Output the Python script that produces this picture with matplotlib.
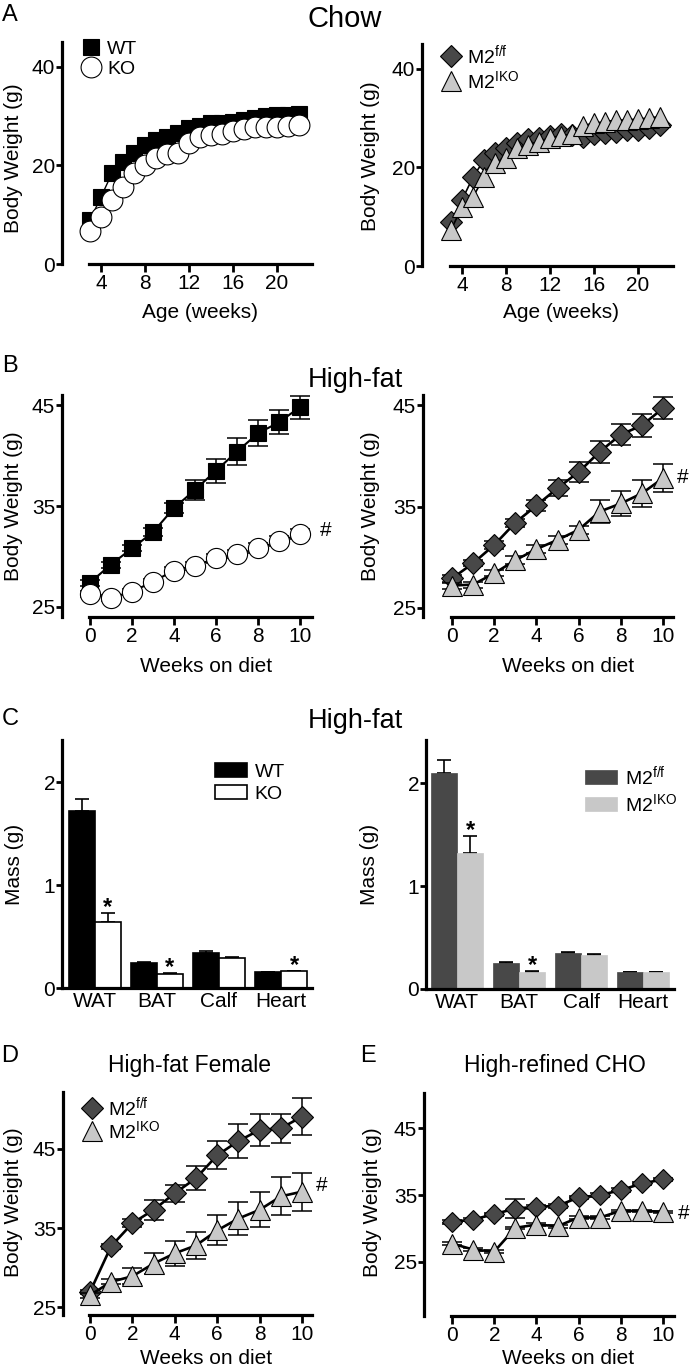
import numpy as np
import matplotlib
matplotlib.use("Agg")
import matplotlib.pyplot as plt
from matplotlib.lines import Line2D
from matplotlib.patches import Patch

plt.rcParams['font.family'] = ['Liberation Sans', 'DejaVu Sans']
plt.rcParams['mathtext.default'] = 'regular'

# A - chow, body weight by age
chow_weeks = list(range(3, 23))
chow_wt = [8.9, 13.6, 18.4, 20.7, 22.5, 24.1, 25.2, 25.8, 26.5, 27.5,
           28.0, 28.5, 28.6, 28.8, 29.2, 29.5, 30.0, 30.2, 30.3, 30.5]
chow_ko = [6.6, 9.5, 13.0, 15.7, 18.4, 20.0, 21.4, 22.3, 22.5, 24.5,
           25.8, 26.2, 26.4, 26.9, 27.3, 27.7, 27.8, 27.8, 27.9, 28.2]
chow_m2ff = [8.9, 13.4, 18.0, 21.5, 23.0, 24.0, 25.0, 25.7, 26.0, 26.3,
             26.7, 26.5, 26.2, 26.8, 27.0, 27.1, 27.5, 27.5, 27.9, 28.5]
chow_m2iko = [7.3, 12.0, 14.0, 18.0, 20.8, 21.8, 23.9, 24.6, 25.2, 26.0,
              26.4, 26.7, 28.4, 29.0, 29.2, 29.6, 29.6, 29.8, 30.0, 30.3]

# B - high-fat, weeks on diet
diet_weeks = list(range(0, 11))
hf_wt = [27.4, 29.2, 30.8, 32.4, 34.8, 36.6, 38.5, 40.4, 42.2, 43.3, 44.8]
hf_wt_err = [0.3, 0.3, 0.3, 0.4, 0.5, 1.0, 1.2, 1.3, 1.3, 1.2, 1.15]
hf_ko = [26.3, 25.9, 26.5, 27.5, 28.6, 29.1, 29.8, 30.2, 30.8, 31.5, 32.2]
hf_ko_err = [0.3, 0.3, 0.3, 0.3, 0.4, 0.4, 0.4, 0.4, 0.5, 0.5, 0.5]
hf_m2ff = [27.9, 29.4, 31.2, 33.4, 35.1, 36.8, 38.4, 40.4, 42.1, 43.0, 44.7]
hf_m2ff_err = [0.3, 0.3, 0.4, 0.4, 0.5, 0.8, 1.0, 1.1, 1.0, 1.1, 1.1]
hf_m2iko = [27.2, 27.3, 28.4, 29.7, 30.8, 31.7, 32.7, 34.5, 35.3, 36.3, 37.8]
hf_m2iko_err = [0.3, 0.3, 0.3, 0.4, 0.4, 0.4, 0.4, 1.1, 1.2, 1.3, 1.4]

# C - tissue mass
tissues = ['WAT', 'BAT', 'Calf', 'Heart']
mass_wt = [1.72, 0.24, 0.34, 0.155]
mass_wt_err = [0.12, 0.01, 0.015, 0.005]
mass_ko = [0.64, 0.135, 0.29, 0.165]
mass_ko_err = [0.09, 0.01, 0.01, 0.005]
mass_ko_sig = [True, True, False, True]
mass_m2ff = [2.10, 0.25, 0.35, 0.165]
mass_m2ff_err = [0.13, 0.01, 0.01, 0.005]
mass_m2iko = [1.32, 0.165, 0.33, 0.165]
mass_m2iko_err = [0.17, 0.01, 0.01, 0.005]
mass_m2iko_sig = [True, True, False, False]

# D - high-fat female
hff_m2ff = [26.9, 32.7, 35.6, 37.3, 39.4, 41.3, 44.2, 46.0, 47.4, 47.6, 49.1]
hff_m2ff_err = [0.3, 0.3, 0.5, 1.3, 1.05, 1.5, 1.75, 2.1, 2.0, 1.8, 2.3]
hff_m2iko = [26.5, 28.2, 28.9, 30.5, 31.8, 32.8, 34.7, 36.2, 37.3, 39.0, 39.6]
hff_m2iko_err = [0.3, 0.3, 1.0, 1.3, 1.6, 1.7, 1.9, 2.1, 2.2, 2.4, 2.4]

# E - high-refined CHO
cho_m2ff = [31.0, 31.35, 32.15, 33.0, 33.25, 33.4, 34.65, 35.0, 35.75, 36.75, 37.35]
cho_m2ff_err = [0.25, 0.25, 0.25, 1.4, 0.25, 0.25, 0.25, 0.25, 0.25, 0.25, 0.25]
cho_m2iko = [27.75, 26.85, 26.55, 30.1, 30.6, 30.35, 31.65, 31.65, 32.65, 32.65, 32.5]
cho_m2iko_err = [0.2, 0.2, 0.2, 0.2, 0.2, 0.2, 0.2, 0.2, 0.2, 0.2, 0.2]

LBL_FF = r'M2$^{f/f}$'
LBL_IKO = r'M2$^{IKO}$'
DARK = '#484848'
LIGHT = '#c8c8c8'

W, H = 693, 1367
fig = plt.figure(figsize=(W / 100, H / 100), dpi=100)


def frac(box, px, py):
    l, t, r, b = box
    return (px - l) / (r - l), (b - py) / (b - t)


def panel(box, xlim, ylim, xspan, yticks, xticks=None):
    l, t, r, b = box
    ax = fig.add_axes([l / W, 1 - b / H, (r - l) / W, (b - t) / H])
    ax.set_xlim(xlim)
    ax.set_ylim(ylim)
    ax.patch.set_alpha(0)
    ax.spines[['top', 'right']].set_visible(False)
    for s in ['left', 'bottom']:
        ax.spines[s].set_linewidth(2.3)
    ax.spines['bottom'].set_bounds(*xspan)
    ax.set_yticks(yticks)
    if xticks is not None:
        ax.set_xticks(xticks)
    ax.tick_params(axis='both', labelsize=15, width=2, direction='out')
    ax.tick_params(axis='y', length=4, pad=1)
    ax.tick_params(axis='x', length=5.5, pad=2)
    return ax


def labels(ax, box, xlabel, xpos, ylabel, ypos):
    if xlabel:
        ax.set_xlabel(xlabel, fontsize=15, va='center', ha='center')
        ax.xaxis.set_label_coords(*frac(box, *xpos))
    ax.set_ylabel(ylabel, fontsize=15, va='center', ha='center')
    ax.yaxis.set_label_coords(*frac(box, *ypos))


def series(ax, x, y, err, marker, face, ms, lw, z):
    if err is not None:
        ax.errorbar(x, y, yerr=err, fmt='none', ecolor='black', elinewidth=1.1,
                    capsize=7, capthick=1.1, zorder=z)
    ax.plot(x, y, color='black', lw=lw, marker=marker, ms=ms, mfc=face,
            mec='black', mew=0.8, zorder=z + 0.5, clip_on=False)


def marker_legend(ax, box, entries, anchor, spacing):
    handles = [Line2D([], [], ls='none', marker=m, ms=ms, mfc=f, mec='black', mew=0.8)
               for m, f, ms, _ in entries]
    ax.legend(handles, [e[3] for e in entries], loc='upper left',
              bbox_to_anchor=frac(box, *anchor), frameon=False, fontsize=14,
              handlelength=1.0, handletextpad=0.35, labelspacing=spacing,
              borderaxespad=0, borderpad=0)


def mass_panel(ax, box, a, a_err, b, b_err, sig, style_a, style_b, names, anchor):
    x = np.arange(len(tissues))
    w = 0.42
    ax.bar(x - w / 2, a, w, **style_a, zorder=2)
    ax.bar(x + w / 2, b, w, **style_b, zorder=2)
    zeros = np.zeros(len(x))
    ax.errorbar(x - w / 2, a, yerr=[zeros, a_err], fmt='none', ecolor='black',
                elinewidth=1.2, capsize=5, capthick=1.2, zorder=1)
    ax.errorbar(x + w / 2, b, yerr=[zeros, b_err], fmt='none', ecolor='black',
                elinewidth=1.2, capsize=5, capthick=1.2, zorder=1)
    for xi, v, e, s in zip(x, b, b_err, sig):
        if s:
            ax.text(xi + w / 2, v + e - 0.01, '*', ha='center', va='baseline',
                    fontsize=17, fontweight='bold')
    ax.set_xticks(x)
    ax.set_xticklabels(tissues)
    ax.tick_params(axis='x', length=0, pad=3)
    handles = [Patch(**style_a), Patch(**style_b)]
    ax.legend(handles, names, loc='upper left', bbox_to_anchor=frac(box, *anchor),
              frameon=False, fontsize=14, handlelength=1.65, handleheight=0.7,
              handletextpad=0.4, labelspacing=0.25, borderaxespad=0, borderpad=0)


def ftext(px, py, s, size):
    fig.text(px / W, 1 - py / H, s, fontsize=size, ha='center', va='baseline')


# ---- A ----
A_L = (62, 42, 312, 264)
ax = panel(A_L, (0.45, 23.2), (0, 45), (2.9, 23.2), [0, 20, 40], [4, 8, 12, 16, 20])
series(ax, chow_weeks, chow_wt, None, 's', 'black', 12, 1.0, 2)
series(ax, chow_weeks, chow_ko, None, 'o', 'white', 15, 1.0, 3)
labels(ax, A_L, 'Age (weeks)', (200, 312), 'Body Weight (g)', (14, 158))
marker_legend(ax, A_L, [('s', 'black', 12, 'WT'), ('o', 'white', 15, 'KO')], (81, 40), 0.15)

A_R = (422, 44, 673, 266)
ax = panel(A_R, (0.36, 23.2), (0, 45), (2.9, 23.2), [0, 20, 40], [4, 8, 12, 16, 20])
series(ax, chow_weeks, chow_m2ff, None, 'D', DARK, 11, 1.2, 2)
series(ax, chow_weeks, chow_m2iko, None, '^', LIGHT, 14, 1.2, 3)
labels(ax, A_R, 'Age (weeks)', (561, 312), 'Body Weight (g)', (371, 156))
marker_legend(ax, A_R, [('D', DARK, 11, LBL_FF), ('^', LIGHT, 14, LBL_IKO)], (441, 43), 0.15)

# ---- B ----
B_L = (62, 395, 312, 617)
ax = panel(B_L, (-1.33, 10.57), (24.0, 46.0), (-0.05, 10.57), [25, 35, 45], range(0, 11, 2))
series(ax, diet_weeks, hf_wt, hf_wt_err, 's', 'black', 12, 1.5, 2)
series(ax, diet_weeks, hf_ko, hf_ko_err, 'o', 'white', 14.5, 1.5, 3)
ax.text(diet_weeks[-1] + 1.2, hf_ko[-1] + 0.4, '#', fontsize=15, ha='center', va='center')
labels(ax, B_L, 'Weeks on diet', (206, 666), 'Body Weight (g)', (14, 506))

B_R = (423, 395, 673, 617)
ax = panel(B_R, (-1.37, 10.47), (24.1, 46.0), (-0.05, 10.47), [25, 35, 45], range(0, 11, 2))
series(ax, diet_weeks, hf_m2ff, hf_m2ff_err, 'D', DARK, 10.8, 1.9, 2)
series(ax, diet_weeks, hf_m2iko, hf_m2iko_err, '^', LIGHT, 14.5, 1.9, 3)
ax.text(diet_weeks[-1] + 0.95, hf_m2iko[-1] + 0.1, '#', fontsize=15, ha='center', va='center')
labels(ax, B_R, 'Weeks on diet', (568, 666), 'Body Weight (g)', (371, 506))

# ---- C ----
C_L = (62, 740, 312, 988)
ax = panel(C_L, (-0.53, 3.5), (0, 2.41), (-0.53, 3.5), [0, 1, 2])
mass_panel(ax, C_L, mass_wt, mass_wt_err, mass_ko, mass_ko_err, mass_ko_sig,
           dict(facecolor='black', edgecolor='black', linewidth=1.2),
           dict(facecolor='white', edgecolor='black', linewidth=1.2),
           ['WT', 'KO'], (215, 763))
labels(ax, C_L, None, None, 'Mass (g)', (15, 864))

C_R = (426, 740, 674, 989)
ax = panel(C_R, (-0.5, 3.5), (0, 2.42), (-0.5, 3.5), [0, 1, 2])
mass_panel(ax, C_R, mass_m2ff, mass_m2ff_err, mass_m2iko, mass_m2iko_err, mass_m2iko_sig,
           dict(facecolor=DARK, edgecolor=DARK, linewidth=0.5),
           dict(facecolor=LIGHT, edgecolor=LIGHT, linewidth=0.5),
           [LBL_FF, LBL_IKO], (585, 764))
labels(ax, C_R, None, None, 'Mass (g)', (370, 864))

# ---- D ----
D_B = (63, 1092, 312, 1315)
ax = panel(D_B, (-1.27, 10.47), (24.0, 52.2), (-0.05, 10.47), [25, 35, 45], range(0, 11, 2))
series(ax, diet_weeks, hff_m2ff, hff_m2ff_err, 'D', DARK, 10.8, 1.9, 2)
series(ax, diet_weeks, hff_m2iko, hff_m2iko_err, '^', LIGHT, 14.5, 1.9, 3)
ax.text(diet_weeks[-1] + 0.94, hff_m2iko[-1] + 0.8, '#', fontsize=15, ha='center', va='center')
labels(ax, D_B, 'Weeks on diet', (206, 1358), 'Body Weight (g)', (14, 1202))
marker_legend(ax, D_B, [('D', DARK, 10.8, LBL_FF), ('^', LIGHT, 14.5, LBL_IKO)], (82, 1095), 0.05)

# ---- E ----
E_B = (424, 1093, 674, 1316)
ax = panel(E_B, (-1.33, 10.52), (16.9, 50.3), (-0.05, 10.52), [25, 35, 45], range(0, 11, 2))
series(ax, diet_weeks, cho_m2ff, cho_m2ff_err, 'D', DARK, 10.5, 1.9, 2)
series(ax, diet_weeks, cho_m2iko, cho_m2iko_err, '^', LIGHT, 15, 1.9, 3)
ax.text(diet_weeks[-1] + 1.0, cho_m2iko[-1] - 0.2, '#', fontsize=15, ha='center', va='center')
labels(ax, E_B, 'Weeks on diet', (568, 1358), 'Body Weight (g)', (372, 1202))

# panel letters and titles
ftext(10, 21, 'A', 17)
ftext(345, 27, 'Chow', 21)
ftext(10, 372, 'B', 17)
ftext(355, 387, 'High-fat', 19.5)
ftext(10, 725, 'C', 17)
ftext(355, 728, 'High-fat', 19.5)
ftext(10, 1062, 'D', 17)
ftext(189, 1072, 'High-fat Female', 16.5)
ftext(368, 1062, 'E', 17)
ftext(555, 1072, 'High-refined CHO', 16.5)

fig.savefig('out.png', dpi=100)
